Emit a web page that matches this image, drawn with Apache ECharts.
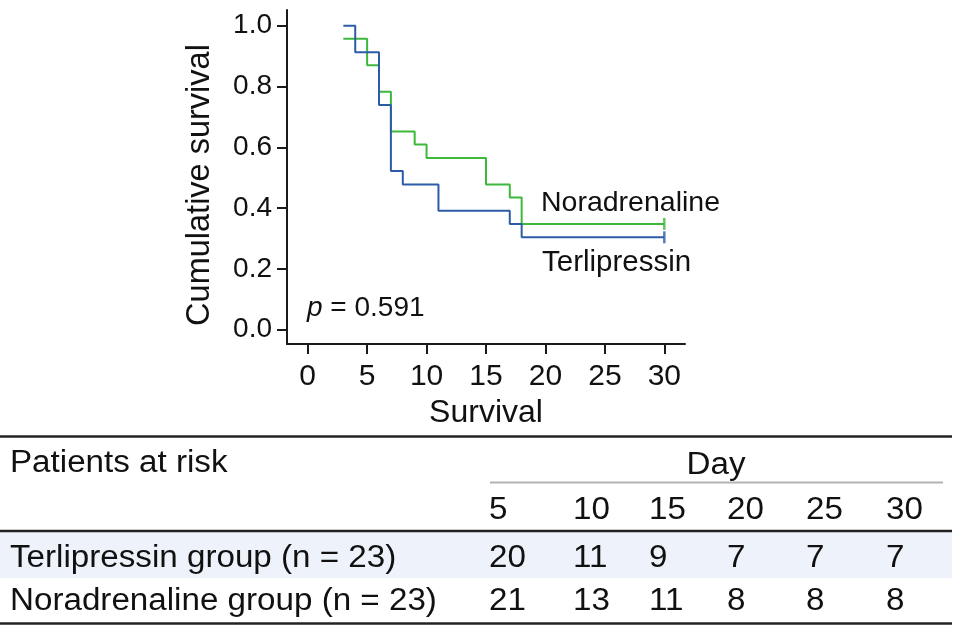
<!DOCTYPE html>
<html>
<head>
<meta charset="utf-8">
<script src="https://cdn.jsdelivr.net/npm/echarts@6/dist/echarts.min.js"></script>
<style>
html,body{margin:0;padding:0;background:#fff;}
#c{width:957px;height:634px;}
</style>
</head>
<body>
<div id="c"></div>
<script>
// ---- Kaplan-Meier step data (day, cumulative survival) ----
const terliDays = [3, 4, 6, 7, 8, 11, 17, 18, 30];
const terliSurv = [1.0, 0.913, 0.739, 0.522, 0.478, 0.391, 0.348, 0.304, 0.304];
const noraDays = [3, 5, 6, 7, 9, 10, 15, 17, 18, 30];
const noraSurv = [0.957, 0.870, 0.783, 0.652, 0.609, 0.565, 0.478, 0.435, 0.348, 0.348];
const terliCensorDays = [30];
const terliCensorSurv = [0.304];
const noraCensorDays = [30];
const noraCensorSurv = [0.348];

// ---- axis ticks ----
const xTicks = [0, 5, 10, 15, 20, 25, 30];
const yTicks = [0, 0.2, 0.4, 0.6, 0.8, 1.0];

// ---- patients at risk table ----
const riskDays = [5, 10, 15, 20, 25, 30];
const terliRisk = [20, 11, 9, 7, 7, 7];
const noraRisk = [21, 13, 11, 8, 8, 8];
const groupNames = ['Terlipressin group (n = 23)', 'Noradrenaline group (n = 23)'];
const seriesNames = ['Terlipressin', 'Noradrenaline'];

const FONT = "'Liberation Sans', Arial, sans-serif";
const BLUE = '#2c5ca8';
const GREEN = '#3cb83c';
const AX = '#1a1a1a';
const TX = 1.07; // horizontal stretch of table text

function zip(a, b) { return a.map((v, i) => [v, b[i]]); }

const chart = echarts.init(document.getElementById('c'), null, {renderer: 'canvas'});

function ttext(x, y, s, align) {
  return {type: 'text', x: x, y: y, scaleX: TX,
    style: {text: s, font: '31px ' + FONT, fill: '#111', align: align || 'left', verticalAlign: 'middle'}};
}

// table columns (left edges)
const colX = [489, 573, 649, 727, 806, 886];
const tableTexts = [];
riskDays.forEach((d, i) => {
  tableTexts.push(ttext(colX[i], 510, String(d)));
  tableTexts.push(ttext(colX[i], 558, String(terliRisk[i])));
  tableTexts.push(ttext(colX[i], 601, String(noraRisk[i])));
});

const option = {
  animation: false,
  backgroundColor: '#fff',
  grid: {left: 287, top: 10, width: 398, height: 334, containLabel: false, outerBoundsMode: 'none'},
  xAxis: {
    type: 'value', min: -1.74, max: 31.74,
    name: 'Survival', nameLocation: 'middle', nameGap: 49,
    nameTextStyle: {fontFamily: FONT, fontSize: 32, color: '#111'},
    axisLine: {show: true, onZero: false, lineStyle: {color: AX, width: 2}},
    axisTick: {show: true, length: 10, lineStyle: {color: AX, width: 2}, customValues: xTicks},
    axisLabel: {show: true, margin: 18, fontFamily: FONT, fontSize: 30, color: '#111', customValues: xTicks},
    splitLine: {show: false}
  },
  yAxis: {
    type: 'value', min: -0.047, max: 1.0516,
    axisLine: {show: true, onZero: false, lineStyle: {color: AX, width: 2}},
    axisTick: {show: true, length: 10, lineStyle: {color: AX, width: 2}, customValues: yTicks},
    axisLabel: {show: true, margin: 15, fontFamily: FONT, fontSize: 28, color: '#111', customValues: yTicks,
      formatter: v => v.toFixed(1)},
    splitLine: {show: false}
  },
  series: [
    {name: seriesNames[1], type: 'line', step: 'end', data: zip(noraDays, noraSurv), showSymbol: false,
      lineStyle: {color: GREEN, width: 2}, itemStyle: {color: GREEN}, z: 2},
    {name: seriesNames[0], type: 'line', step: 'end', data: zip(terliDays, terliSurv), showSymbol: false,
      lineStyle: {color: BLUE, width: 2}, itemStyle: {color: BLUE}, z: 3},
    {type: 'scatter', data: zip(noraCensorDays, noraCensorSurv), symbol: 'rect', symbolSize: [2.5, 12],
      itemStyle: {color: GREEN}, z: 4},
    {type: 'scatter', data: zip(terliCensorDays, terliCensorSurv), symbol: 'rect', symbolSize: [2.5, 12],
      itemStyle: {color: BLUE}, z: 4}
  ],
  graphic: [
    {type: 'text', x: 200, y: 185, rotation: Math.PI / 2,
      style: {text: 'Cumulative survival', font: '32.5px ' + FONT, fill: '#111', align: 'center', verticalAlign: 'middle'}},
    {type: 'text', x: 541, y: 203,
      style: {text: seriesNames[1], font: '28.5px ' + FONT, fill: '#111', align: 'left', verticalAlign: 'middle'}},
    {type: 'text', x: 542, y: 263,
      style: {text: seriesNames[0], font: '29.5px ' + FONT, fill: '#111', align: 'left', verticalAlign: 'middle'}},
    {type: 'text', x: 307, y: 308,
      style: {text: '{i|p} = 0.591', font: '28px ' + FONT, fill: '#111', align: 'left', verticalAlign: 'middle',
        rich: {i: {fontStyle: 'italic', fontFamily: FONT, fontSize: 28, fill: '#111'}}}},
    // table background band
    {type: 'rect', shape: {x: 0, y: 532, width: 952, height: 46}, style: {fill: '#eef2fa'}, z: -1},
    // table rules
    {type: 'line', shape: {x1: 0, y1: 436.5, x2: 952, y2: 436.5}, style: {stroke: '#222', lineWidth: 2.5}},
    {type: 'line', shape: {x1: 490, y1: 482.5, x2: 943, y2: 482.5}, style: {stroke: '#b4b4b4', lineWidth: 2}},
    {type: 'line', shape: {x1: 0, y1: 531, x2: 952, y2: 531}, style: {stroke: '#222', lineWidth: 2.5}},
    {type: 'line', shape: {x1: 0, y1: 623.5, x2: 952, y2: 623.5}, style: {stroke: '#222', lineWidth: 2.5}},
    ttext(10, 463, 'Patients at risk'),
    ttext(716, 465, 'Day', 'center'),
    ttext(10, 558, groupNames[0]),
    ttext(10, 601, groupNames[1])
  ].concat(tableTexts)
};
chart.setOption(option);
</script>
</body>
</html>
